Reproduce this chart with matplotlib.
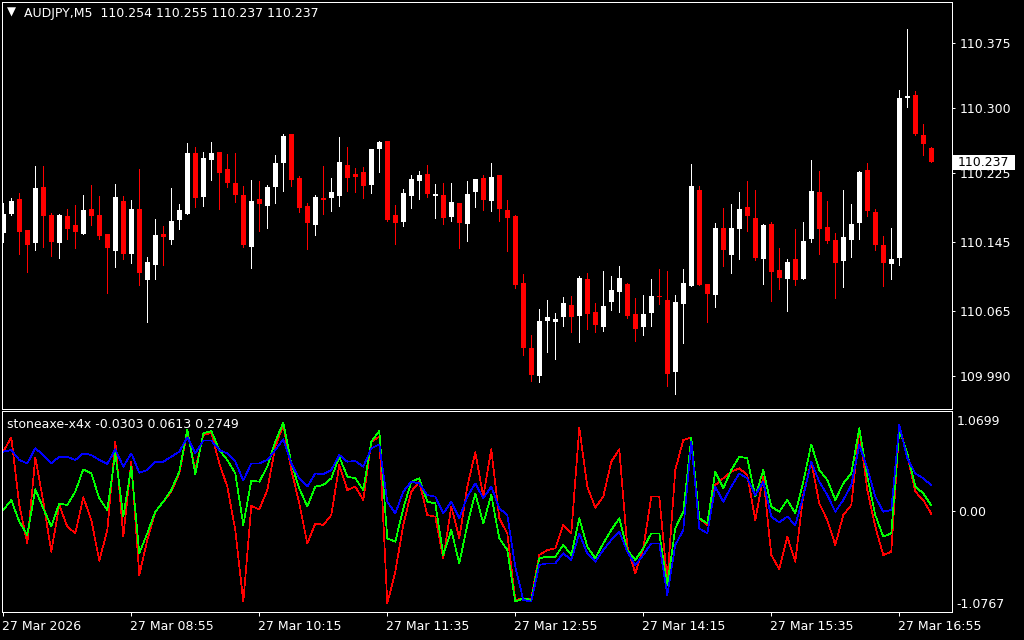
import numpy as np
import matplotlib
matplotlib.use('Agg')
import matplotlib.pyplot as plt
from matplotlib.patches import Rectangle

plt.rcParams['font.family'] = ['DejaVu Sans']

symbol = 'AUDJPY,M5'
indicator_name = 'stoneaxe-x4x'

# M5 bars, 07:35 .. 17:15
opens = [110.156, 110.177, 110.195, 110.159, 110.144, 110.209, 110.176, 110.144, 110.175, 110.165,
         110.154, 110.183, 110.176, 110.154, 110.135, 110.192, 110.131, 110.183, 110.101, 110.119,
         110.154, 110.147, 110.170, 110.177, 110.248, 110.197, 110.240, 110.249, 110.229, 110.213,
         110.199, 110.139, 110.195, 110.187, 110.209, 110.236, 110.270, 110.219, 110.187, 110.165,
         110.196, 110.196, 110.198, 110.234, 110.224, 110.226, 110.211, 110.252, 110.262, 110.176,
         110.168, 110.198, 110.215, 110.224, 110.198, 110.199, 110.174, 110.190, 110.166, 110.203,
         110.219, 110.192, 110.222, 110.182, 110.175, 110.098, 110.023, 109.990, 110.054, 110.053,
         110.059, 110.072, 110.060, 110.102, 110.064, 110.047, 110.076, 110.087, 110.097, 110.062,
         110.047, 110.063, 110.083, 110.078, 109.995, 110.074, 110.094, 110.205, 110.097, 110.084,
         110.161, 110.130, 110.160, 110.185, 110.173, 110.125, 110.166, 110.113, 110.102, 110.125,
         110.102, 110.149, 110.203, 110.162, 110.147, 110.123, 110.147, 110.167, 110.228, 110.180,
         110.142, 110.120, 110.127, 110.311, 110.315, 110.269, 110.254]
highs = [110.190, 110.196, 110.202, 110.159, 110.233, 110.233, 110.179, 110.177, 110.183, 110.188,
         110.199, 110.211, 110.198, 110.154, 110.212, 110.198, 110.194, 110.229, 110.128, 110.172,
         110.164, 110.207, 110.189, 110.259, 110.255, 110.249, 110.260, 110.249, 110.247, 110.248,
         110.210, 110.217, 110.215, 110.211, 110.245, 110.270, 110.270, 110.221, 110.190, 110.199,
         110.233, 110.219, 110.266, 110.255, 110.230, 110.232, 110.252, 110.262, 110.262, 110.188,
         110.206, 110.222, 110.227, 110.234, 110.212, 110.213, 110.213, 110.190, 110.215, 110.218,
         110.222, 110.236, 110.222, 110.194, 110.176, 110.108, 110.038, 110.068, 110.078, 110.063,
         110.082, 110.083, 110.106, 110.109, 110.075, 110.112, 110.106, 110.117, 110.098, 110.080,
         110.084, 110.102, 110.114, 110.112, 110.084, 110.114, 110.235, 110.210, 110.097, 110.167,
         110.184, 110.189, 110.203, 110.215, 110.205, 110.166, 110.168, 110.138, 110.125, 110.160,
         110.168, 110.240, 110.227, 110.192, 110.155, 110.205, 110.189, 110.227, 110.236, 110.183,
         110.152, 110.161, 110.320, 110.391, 110.319, 110.281, 110.255]
lows = [110.145, 110.176, 110.131, 110.110, 110.136, 110.139, 110.129, 110.127, 110.149, 110.138,
        110.154, 110.165, 110.149, 110.086, 110.116, 110.125, 110.121, 110.095, 110.053, 110.102,
        110.119, 110.143, 110.160, 110.177, 110.185, 110.187, 110.217, 110.183, 110.209, 110.191,
        110.139, 110.115, 110.158, 110.161, 110.190, 110.204, 110.210, 110.180, 110.137, 110.153,
        110.177, 110.181, 110.187, 110.204, 110.203, 110.196, 110.202, 110.226, 110.169, 110.143,
        110.164, 110.184, 110.195, 110.197, 110.173, 110.166, 110.169, 110.138, 110.146, 110.185,
        110.182, 110.181, 110.169, 110.135, 110.092, 110.015, 109.985, 109.984, 110.018, 110.010,
        110.048, 110.041, 110.030, 110.045, 110.041, 110.042, 110.067, 110.064, 110.057, 110.031,
        110.038, 110.048, 110.074, 109.979, 109.970, 110.029, 110.094, 110.095, 110.053, 110.070,
        110.117, 110.109, 110.125, 110.158, 110.124, 110.097, 110.077, 110.091, 110.065, 110.095,
        110.102, 110.145, 110.131, 110.144, 110.080, 110.093, 110.128, 110.149, 110.175, 110.136,
        110.094, 110.102, 110.119, 110.301, 110.269, 110.245, 110.237]
closes = [110.177, 110.192, 110.157, 110.142, 110.207, 110.175, 110.145, 110.176, 110.160, 110.157,
          110.182, 110.175, 110.152, 110.138, 110.197, 110.131, 110.183, 110.109, 110.122, 110.153,
          110.151, 110.169, 110.182, 110.248, 110.196, 110.242, 110.248, 110.225, 110.213, 110.199,
          110.142, 110.192, 110.189, 110.209, 110.236, 110.267, 110.217, 110.184, 110.167, 110.197,
          110.194, 110.203, 110.237, 110.219, 110.220, 110.210, 110.252, 110.260, 110.170, 110.167,
          110.202, 110.218, 110.222, 110.200, 110.200, 110.173, 110.191, 110.167, 110.200, 110.218,
          110.194, 110.220, 110.183, 110.173, 110.095, 110.023, 109.992, 110.054, 110.059, 110.056,
          110.075, 110.059, 110.104, 110.062, 110.049, 110.071, 110.090, 110.104, 110.060, 110.045,
          110.062, 110.083, 110.082, 109.993, 110.076, 110.098, 110.210, 110.095, 110.085, 110.161,
          110.136, 110.161, 110.183, 110.175, 110.127, 110.165, 110.110, 110.104, 110.122, 110.101,
          110.146, 110.204, 110.160, 110.146, 110.121, 110.151, 110.166, 110.226, 110.181, 110.142,
          110.121, 110.125, 110.311, 110.314, 110.270, 110.258, 110.237]

ind_red = [0.635, 0.788, 0.064, -0.346, 0.574, 0.100, -0.435, 0.064, -0.167, -0.238,
           0.147, -0.096, -0.531, -0.203, 0.742, -0.274, 0.528, -0.684, -0.310, -0.007,
           0.100, 0.207, 0.403, 0.849, 0.439, 0.813, 0.838, 0.510, 0.261, -0.203,
           -0.969, 0.054, 0.018, 0.225, 0.688, 0.920, 0.439, 0.082, -0.346, -0.132,
           -0.149, -0.043, 0.492, 0.225, 0.261, 0.118, 0.742, 0.795, -0.987, -0.649,
           -0.149, 0.207, 0.314, -0.043, -0.060, -0.506, 0.047, -0.292, 0.261, 0.628,
           0.154, 0.660, -0.078, -0.239, -0.951, -0.934, -0.934, -0.470, -0.417, -0.399,
           -0.149, -0.239, 0.892, 0.261, 0.036, 0.154, 0.528, 0.660, -0.381, -0.666,
           -0.399, 0.154, 0.154, -0.755, 0.439, 0.760, 0.785, -0.078, -0.149, 0.278,
           0.350, 0.421, 0.457, 0.385, -0.096, 0.368, -0.470, -0.624, -0.274, -0.542,
           0.171, 0.528, 0.082, -0.096, -0.363, -0.043, 0.064, 0.867, 0.225, -0.167,
           -0.470, -0.435, 0.902, 0.599, 0.207, 0.118, -0.0303]
ind_green = [0.011, 0.118, -0.114, -0.256, 0.232, 0.029, -0.167, 0.082, 0.064, 0.207,
             0.446, 0.403, 0.136, 0.011, 0.617, -0.060, 0.474, -0.452, -0.238, -0.007,
             0.100, 0.225, 0.421, 0.867, 0.396, 0.831, 0.856, 0.653, 0.546, 0.403,
             -0.149, 0.325, 0.314, 0.474, 0.742, 0.945, 0.510, 0.243, 0.047, 0.261,
             0.278, 0.350, 0.581, 0.368, 0.350, 0.225, 0.742, 0.856, -0.292, -0.328,
             0.029, 0.314, 0.350, 0.100, 0.082, -0.470, -0.203, -0.560, -0.149, 0.189,
             -0.132, 0.171, -0.292, -0.417, -0.969, -0.934, -0.951, -0.506, -0.488, -0.488,
             -0.363, -0.470, -0.078, -0.381, -0.506, -0.346, -0.203, -0.078, -0.417, -0.524,
             -0.399, -0.239, -0.239, -0.791, -0.185, -0.007, 0.785, -0.078, -0.132, 0.421,
             0.243, 0.439, 0.581, 0.564, 0.154, 0.439, 0.047, -0.007, 0.118, -0.025,
             0.314, 0.713, 0.439, 0.332, 0.118, 0.296, 0.403, 0.885, 0.368, -0.043,
             -0.274, -0.239, 0.867, 0.617, 0.261, 0.189, 0.0613]
ind_blue = [0.635, 0.653, 0.546, 0.510, 0.671, 0.599, 0.510, 0.581, 0.581, 0.546,
            0.617, 0.599, 0.546, 0.503, 0.660, 0.474, 0.617, 0.410, 0.439, 0.528,
            0.528, 0.581, 0.635, 0.788, 0.617, 0.753, 0.753, 0.653, 0.617, 0.528,
            0.325, 0.510, 0.510, 0.546, 0.653, 0.767, 0.510, 0.350, 0.261, 0.403,
            0.393, 0.439, 0.599, 0.528, 0.535, 0.474, 0.671, 0.713, 0.100, -0.025,
            0.207, 0.314, 0.296, 0.171, 0.154, -0.025, 0.100, -0.078, 0.154, 0.296,
            0.136, 0.261, 0.029, -0.043, -0.595, -0.951, -0.969, -0.577, -0.560, -0.560,
            -0.452, -0.524, -0.239, -0.452, -0.542, -0.417, -0.310, -0.221, -0.435, -0.577,
            -0.470, -0.346, -0.346, -0.898, -0.363, -0.203, 0.742, -0.185, -0.239, 0.261,
            0.100, 0.261, 0.403, 0.350, 0.171, 0.314, -0.060, -0.121, -0.060, -0.149,
            0.154, 0.528, 0.314, 0.171, -0.007, 0.118, 0.278, 0.706, 0.457, 0.154,
            -0.007, 0.011, 0.920, 0.564, 0.403, 0.350, 0.2749]

price_ticks = [110.375, 110.300, 110.225, 110.145, 110.065, 109.990]
ind_range = [-1.0767, 1.0699]
time_ticks = [0, 16, 32, 48, 64, 80, 96, 112]
time_labels = ['27 Mar 2026', '27 Mar 08:55', '27 Mar 10:15', '27 Mar 11:35',
               '27 Mar 12:55', '27 Mar 14:15', '27 Mar 15:35', '27 Mar 16:55']

o = np.array(opens); h = np.array(highs); l = np.array(lows); c = np.array(closes)
x = np.arange(len(o))
up = c >= o
cols = np.where(up, 'white', '#ff0000')

FS = 9
PX = 0.72  # one pixel in points

fig = plt.figure(figsize=(10.24, 6.4), dpi=100, facecolor='black')
ax = fig.add_axes([2 / 1024, 231 / 640, 950 / 1024, 407 / 640], facecolor='black')
ax2 = fig.add_axes([2 / 1024, 28.3 / 640, 950 / 1024, 200.7 / 640], facecolor='black')

for a in (ax, ax2):
    a.set_xlim(-0.1625, 118.59)
    for s in a.spines.values():
        s.set_color('white')
        s.set_linewidth(PX)

# candles
ax.set_ylim(109.9524, 110.4220)
ax.vlines(x, l, h, colors=cols, linewidth=PX, antialiased=False)
body = np.where(np.abs(c - o) < 0.0008, 0.0009, c - o)
ax.bar(x, body, bottom=o, width=0.625, color=cols, linewidth=0, antialiased=False)

ax.set_xticks([])
ax.yaxis.tick_right()
ax.set_yticks(price_ticks)
ax.set_yticklabels([f'{p:.3f}' for p in price_ticks])
ax.tick_params(axis='y', colors='white', length=2.2, width=PX, pad=3, labelsize=FS)

# current price box
last = closes[-1]
trans = ax.get_yaxis_transform()
ax.add_patch(Rectangle((1.0012, last - 0.0087), 0.0652, 0.0174, transform=trans,
                       facecolor='white', edgecolor='none', clip_on=False, zorder=5))
ax.text(1.0063, last, f'{last:.3f}', transform=trans, color='black', fontsize=FS,
        ha='left', va='center', zorder=6, clip_on=False)

# header
ax.text(5 / 950, 1 - 10.5 / 407, '\u25bc', transform=ax.transAxes, color='white',
        fontsize=8.5, ha='left', va='center')
ax.text(22 / 950, 1 - 11 / 407,
        f'{symbol}  {opens[-1]:.3f} {highs[-1]:.3f} {lows[-1]:.3f} {closes[-1]:.3f}',
        transform=ax.transAxes, color='white', fontsize=FS, ha='left', va='center')

# indicator window
ax2.set_ylim(ind_range[0], ind_range[1])
ax2.plot(x, ind_red, color='#ff0000', linewidth=0.5, antialiased=False)
ax2.plot(x, ind_green, color='#00ff00', linewidth=0.5, antialiased=False)
ax2.plot(x, ind_blue, color='#0000ff', linewidth=0.5, antialiased=False)

ax2.yaxis.tick_right()
ax2.set_yticks([0.0])
ax2.set_yticklabels(['0.00'])
ax2.tick_params(axis='y', colors='white', length=2.2, width=PX, pad=2, labelsize=FS)
ax2.text(1.005, 0.947, f'{ind_range[1]:.4f}', transform=ax2.transAxes, color='white',
         fontsize=FS, ha='left', va='center')
ax2.text(1.005, 0.037, f'{ind_range[0]:.4f}', transform=ax2.transAxes, color='white',
         fontsize=FS, ha='left', va='center')
ax2.text(5 / 950, 1 - 13 / 200.7,
         f'{indicator_name} {ind_red[-1]:.4f} {ind_green[-1]:.4f} {ind_blue[-1]:.4f}',
         transform=ax2.transAxes, color='white', fontsize=FS, ha='left', va='center')

ax2.set_xticks(time_ticks)
ax2.set_xticklabels([])
ax2.tick_params(axis='x', colors='white', length=2.9, width=PX, direction='out')
for t, lab in zip(time_ticks, time_labels):
    ax2.text(t - 0.15, -0.0715, lab, transform=ax2.get_xaxis_transform(), color='white',
             fontsize=FS, ha='left', va='center', clip_on=False)

fig.savefig('out.png', dpi=100, facecolor='black')
